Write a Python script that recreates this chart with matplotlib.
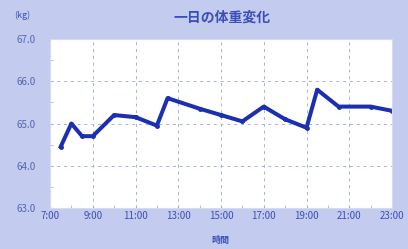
import matplotlib
matplotlib.use("Agg")
import matplotlib.pyplot as plt
from matplotlib.ticker import MultipleLocator

plt.rcParams['font.family'] = ['Noto Sans CJK JP', 'DejaVu Sans']

hours = [7.5, 8, 8.5, 9, 10, 11, 12, 12.5, 14, 15, 16, 17, 18, 19, 19.5, 20.5, 22, 23]
weight = [64.45, 65.0, 64.7, 64.7, 65.2, 65.15, 64.95, 65.6, 65.35, 65.2, 65.05, 65.4,
          65.1, 64.9, 65.8, 65.4, 65.4, 65.3]
xtick_pos = [7, 9, 11, 13, 15, 17, 19, 21, 23]
xtick_labels = ["7:00", "9:00", "11:00", "13:00", "15:00", "17:00", "19:00", "21:00", "23:00"]
ytick_pos = [63, 64, 65, 66, 67]
ytick_labels = ["63.0", "64.0", "65.0", "66.0", "67.0"]
title = "一日の体重変化"
xlabel = "時間"
unit = "(kg)"

bg = "#c3cbef"
txt = "#3c4fb8"
line_c = "#1c2fb0"
grid_c = "#a3b2da"

fig = plt.figure(figsize=(4.08, 2.49), dpi=100, facecolor=bg)
ax = fig.add_axes([50/408, 1-208/249, 342/408, 169/249])
ax.set_facecolor("white")
ax.plot(hours, weight, color=line_c, lw=2.9, marker='o', ms=2.5, solid_joinstyle='round')
ax.set_xlim(7, 23)
ax.set_ylim(63, 67)
ax.set_xticks(xtick_pos)
ax.set_xticklabels(xtick_labels)
ax.set_yticks(ytick_pos)
ax.set_yticklabels(ytick_labels)
ax.xaxis.set_minor_locator(MultipleLocator(1))
ax.yaxis.set_minor_locator(MultipleLocator(0.5))
ax.tick_params(axis='both', which='both', direction='in', colors=grid_c, labelcolor=txt,
               labelsize=7, length=2)
ax.tick_params(axis='x', pad=2)
ax.tick_params(axis='y', pad=10)
for lbl in ax.get_yticklabels():
    lbl.set_color("#5565b5")
for s in ax.spines.values():
    s.set_color("#d6dbee")
    s.set_linewidth(0.8)
for y in [64, 65, 66]:
    ax.axhline(y, color=grid_c, lw=0.7, ls=(0, (3, 4)), zorder=0.5)
for x in [9, 11, 13, 15, 17, 19, 21]:
    ax.axvline(x, color=grid_c, lw=0.7, ls=(0, (3, 4)), zorder=0.5)

fig.text(222/408, 1-18/249, title, ha='center', va='center', color=txt, fontsize=10, fontweight='bold')
fig.text(22/408, 1-15/249, unit, ha='center', va='center', color=txt, fontsize=6.5)
fig.text(220/408, 1-240/249, xlabel, ha='center', va='center', color=txt, fontsize=6.5, fontweight='bold')

fig.savefig("out.png", dpi=100, facecolor=bg)
